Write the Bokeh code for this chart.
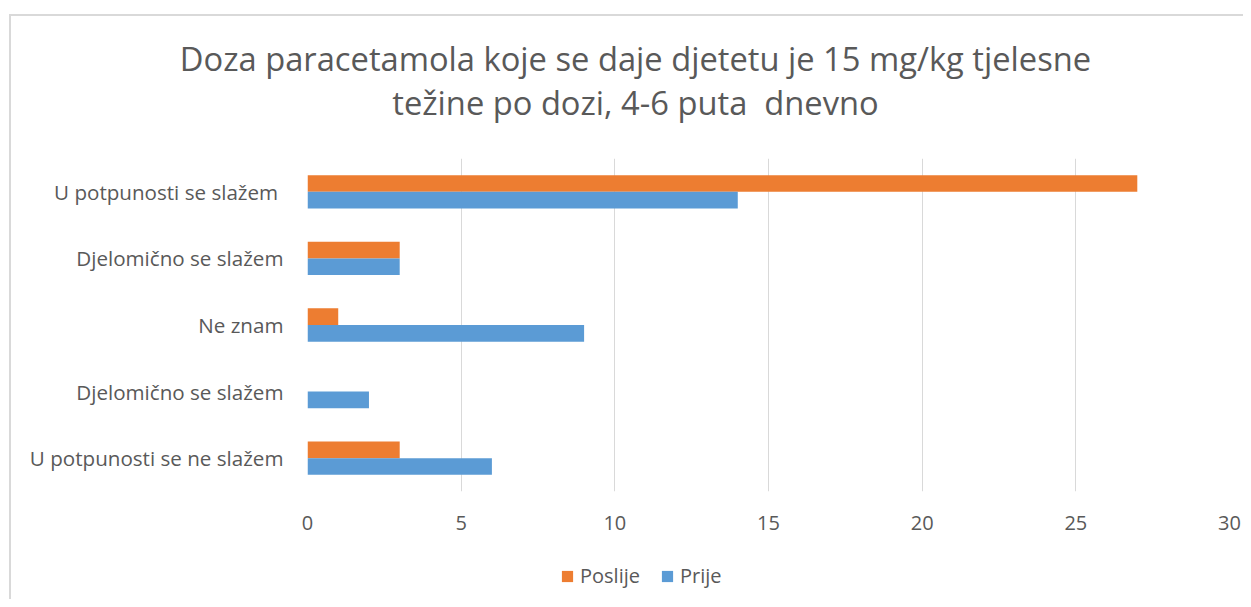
from bokeh.plotting import figure
from bokeh.models import (ColumnDataSource, FixedTicker, Legend, LegendItem, Div)
from bokeh.layouts import column
from bokeh.transform import dodge
from bokeh.embed import file_html
from bokeh.resources import INLINE

# Data (bottom to top as drawn)
categories = ["U potpunosti se ne slažem", "Djelomično se slažem", "Ne znam",
              "Djelomično se slažem", "U potpunosti se slažem "]
poslije = [3, 0, 1, 3, 27]
prije = [6, 2, 9, 3, 14]
x_ticks = [0, 5, 10, 15, 20, 25, 30]
series_names = ["Poslije", "Prije"]
title_lines = ["Doza paracetamola koje se daje djetetu je 15 mg/kg tjelesne",
               "težine po dozi, 4-6 puta  dnevno"]

ORANGE = "#ED7D31"
BLUE = "#5B9BD5"
TXT = "#595959"
FONT = "Open Sans"

pos = list(range(len(categories)))
src = ColumnDataSource(dict(pos=pos, poslije=poslije, prije=prije))

title_div = Div(
    text=("<div style=\"width:1243px; text-align:center; position:relative; left:14px;"
          " padding-top:37px; font-family:'Open Sans'; font-size:32.7px; line-height:44px;"
          " color:%s; white-space:pre;\">%s<br>%s</div>") % (TXT, title_lines[0], title_lines[1]),
    width=1243, height=140, margin=0)

# ---- main chart ----
p = figure(width=1243, height=402, output_backend="svg", toolbar_location=None,
           x_range=(0, 30), y_range=(-0.5, len(categories) - 0.5),
           min_border_left=307, min_border_right=14, min_border_top=18,
           min_border_bottom=51, margin=0)
p.outline_line_color = None
p.background_fill_color = "white"
p.border_fill_alpha = 0

p.hbar(y=dodge("pos", 0.125), right="poslije", left=0, height=0.25,
       source=src, fill_color=ORANGE, line_color=None)
p.hbar(y=dodge("pos", -0.125), right="prije", left=0, height=0.25,
       source=src, fill_color=BLUE, line_color=None)

p.xaxis.ticker = FixedTicker(ticks=x_ticks)
p.xaxis.axis_line_color = None
p.xaxis.major_tick_line_color = None
p.xaxis.minor_tick_line_color = None
p.xaxis.major_tick_out = 0
p.xaxis.major_tick_in = 0
p.xaxis.major_label_standoff = 24
p.xaxis.major_label_text_font = FONT
p.xaxis.major_label_text_font_size = "20px"
p.xaxis.major_label_text_color = TXT

p.yaxis.ticker = FixedTicker(ticks=pos)
p.yaxis.major_label_overrides = {i: c for i, c in zip(pos, categories)}
p.yaxis.axis_line_color = None
p.yaxis.major_tick_line_color = None
p.yaxis.minor_tick_line_color = None
p.yaxis.major_tick_out = 0
p.yaxis.major_tick_in = 0
p.yaxis.major_label_standoff = 24
p.yaxis.major_label_text_font = FONT
p.yaxis.major_label_text_font_size = "20.6px"
p.yaxis.major_label_text_color = TXT

p.ygrid.grid_line_color = None
p.xgrid.grid_line_color = "#D9D9D9"
p.xgrid.grid_line_width = 1

# ---- legend strip (same series, glyphs kept outside its view) ----
lg = figure(width=1243, height=57, output_backend="svg", toolbar_location=None,
            x_range=(100, 101), y_range=(100, 101),
            x_axis_type=None, y_axis_type=None,
            min_border_left=307, min_border_right=14, min_border_top=0,
            min_border_bottom=0, margin=0)
lg.outline_line_color = None
lg.background_fill_alpha = 0
lg.border_fill_alpha = 0
lg.grid.visible = False
l1 = lg.hbar(y=dodge("pos", 0.125), right="poslije", left=0, height=0.25,
             source=src, fill_color=ORANGE, line_color=None)
l2 = lg.hbar(y=dodge("pos", -0.125), right="prije", left=0, height=0.25,
             source=src, fill_color=BLUE, line_color=None)
legend = Legend(items=[LegendItem(label=series_names[0], renderers=[l1]),
                       LegendItem(label=series_names[1], renderers=[l2])],
                orientation="horizontal", location=(253, 10),
                padding=0, margin=0, spacing=20, label_standoff=6,
                glyph_width=14, glyph_height=14,
                label_text_font=FONT, label_text_font_size="20px",
                label_text_color=TXT, border_line_color=None,
                background_fill_alpha=0)
lg.add_layout(legend)

layout = column(title_div, p, lg, spacing=0, margin=0,
                styles={"background-image": "linear-gradient(#D9D9D9,#D9D9D9), linear-gradient(#D9D9D9,#D9D9D9)",
                        "background-size": "2px 100%, 100% 2px",
                        "background-position": "9px 14px, 9px 14px",
                        "background-repeat": "no-repeat"})
open("out.html", "w").write(file_html(layout, INLINE))
